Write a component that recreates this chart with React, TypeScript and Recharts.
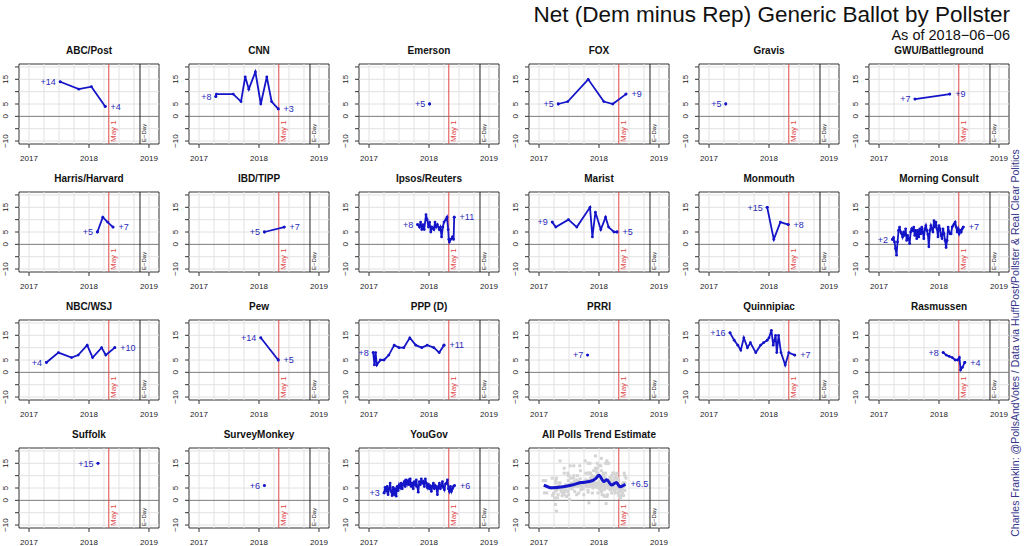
import React from "react";
import {
  ComposedChart,
  Line,
  XAxis,
  YAxis,
  ReferenceLine,
  ReferenceArea,
  ReferenceDot,
} from "recharts";

type Pt = [number, number];

const FONT = '"Liberation Sans", Arial, Helvetica, sans-serif';
const BLUE = "#1414c8";
const LABEL_BLUE = "#2a2ab8";
const RED = "#e04848";
const GRID = "#e2e2e2";

const X_DOMAIN = [2016.833, 2019.167];
const Y_DOMAIN = [-11.2, 21.2];
const YEAR_TICKS = [2017, 2018, 2019];
const Y_TICKS = [-10, -5, 0, 5, 10, 15, 20];
const Y_LABELED = [-10, 0, 5, 15];
const X_GRID = [2017, 2017.25, 2017.5, 2017.75, 2018, 2018.25, 2018.5, 2018.75, 2019];
const Y_GRID = [-10, -5, 5, 10, 15, 20];
const MAY_1 = 2018.33;
const E_DAY = 2018.85;

// poll results: [decimal year, Dem minus Rep]
const abcPost: Pt[] = [[2017.52, 14], [2017.83, 11], [2018.04, 12], [2018.27, 4]];
const cnn: Pt[] = [
  [2017.28, 8], [2017.29, 9], [2017.57, 9], [2017.7, 6], [2017.77, 16], [2017.83, 11],
  [2017.94, 18], [2018.03, 5], [2018.13, 16], [2018.21, 6], [2018.32, 3],
];
const emerson: Pt[] = [[2018.01, 5]];
const fox: Pt[] = [[2017.32, 5], [2017.48, 6], [2017.82, 15], [2018.08, 6], [2018.23, 5], [2018.45, 9]];
const gravis: Pt[] = [[2017.28, 5]];
const gwu: Pt[] = [[2017.6, 7], [2018.18, 9]];
const harris: Pt[] = [[2018.14, 5], [2018.23, 11], [2018.31, 9], [2018.4, 7]];
const ibd: Pt[] = [[2018.09, 5], [2018.42, 7]];
const ipsos: Pt[] = [
  [2017.81, 8], [2017.84, 7], [2017.86, 9], [2017.88, 6], [2017.9, 8], [2017.92, 6],
  [2017.95, 12], [2017.97, 10], [2017.99, 7], [2018.01, 9], [2018.03, 5], [2018.05, 7],
  [2018.08, 6], [2018.1, 9], [2018.12, 7], [2018.14, 8], [2018.17, 6], [2018.19, 7],
  [2018.21, 3], [2018.23, 7], [2018.25, 9], [2018.28, 10], [2018.3, 11], [2018.32, 6],
  [2018.33, 2], [2018.34, 1], [2018.36, 2], [2018.39, 3], [2018.41, 2], [2018.42, 11],
];
const marist: Pt[] = [
  [2017.22, 9], [2017.28, 7], [2017.49, 10], [2017.63, 7], [2017.85, 15], [2017.89, 3],
  [2017.94, 13], [2018.03, 6], [2018.11, 11], [2018.16, 7], [2018.25, 5], [2018.3, 5],
];
const monmouth: Pt[] = [[2017.97, 15], [2018.08, 2], [2018.19, 9], [2018.32, 8]];
const morningConsult: Pt[] = [
  [2017.225, 2], [2017.242, 2.7], [2017.258, 1], [2017.275, -1.7], [2017.292, -4.4],
  [2017.309, 1], [2017.326, 5.6], [2017.343, 7], [2017.36, 5], [2017.376, 4.3],
  [2017.393, 3], [2017.41, 5], [2017.427, 3.6], [2017.444, 6.3], [2017.461, 1.6],
  [2017.478, 3.6], [2017.494, 2.3], [2017.511, 0.3], [2017.528, 5], [2017.545, 6.3],
  [2017.562, 5.6], [2017.579, 7], [2017.596, 3.6], [2017.612, 5.6], [2017.629, 2.3],
  [2017.646, 5.6], [2017.663, 3], [2017.68, 6.3], [2017.697, 4.3], [2017.713, 7],
  [2017.73, 5], [2017.747, 2.3], [2017.764, 6.3], [2017.781, 7.6], [2017.798, 5.6],
  [2017.815, 4], [2017.831, -1], [2017.848, 5.6], [2017.865, 7.6], [2017.882, 6.3],
  [2017.899, 5], [2017.916, 9.6], [2017.933, 7], [2017.949, 9], [2017.966, 6.3],
  [2017.983, 3], [2018.0, 7.6], [2018.017, 6.3], [2018.034, 3.6], [2018.051, 2.3],
  [2018.067, 6.3], [2018.084, 4.3], [2018.101, 1.6], [2018.118, -1.3], [2018.135, 1.6],
  [2018.152, 7], [2018.169, 5], [2018.185, 4.3], [2018.202, 4.3], [2018.219, 7],
  [2018.236, 7.6], [2018.253, 8.3], [2018.27, 9], [2018.287, 7], [2018.303, 5],
  [2018.32, 6.3], [2018.337, 4.3], [2018.354, 5.6], [2018.371, 5], [2018.388, 6.3],
  [2018.404, 7],
];
const nbcWsj: Pt[] = [
  [2017.29, 4], [2017.49, 8], [2017.71, 6], [2017.82, 7], [2017.97, 11], [2018.06, 6],
  [2018.21, 10], [2018.28, 7], [2018.43, 10],
];
const pew: Pt[] = [[2018.03, 14], [2018.32, 5]];
const ppp: Pt[] = [
  [2017.07, 8], [2017.09, 3], [2017.11, 8], [2017.13, 3], [2017.19, 5], [2017.25, 5],
  [2017.33, 7], [2017.42, 11], [2017.5, 10], [2017.58, 10], [2017.68, 14], [2017.78, 11],
  [2017.88, 10], [2017.97, 11], [2018.08, 10], [2018.17, 8], [2018.25, 11],
];
const prri: Pt[] = [[2017.81, 7]];
const quinnipiac: Pt[] = [
  [2017.35, 16], [2017.42, 13], [2017.48, 11], [2017.53, 9], [2017.58, 14], [2017.64, 10],
  [2017.69, 12], [2017.78, 8], [2017.86, 11], [2017.91, 12], [2017.97, 13], [2018.0, 14],
  [2018.04, 17], [2018.07, 11], [2018.11, 15], [2018.13, 8], [2018.16, 15], [2018.2, 8],
  [2018.27, 3], [2018.33, 8], [2018.43, 7],
];
const rasmussen: Pt[] = [
  [2018.07, 8], [2018.12, 7], [2018.17, 6.5], [2018.22, 6], [2018.27, 5], [2018.31, 5],
  [2018.34, 6], [2018.36, 1], [2018.39, 2], [2018.43, 4],
];
const suffolk: Pt[] = [[2018.15, 15]];
const surveyMonkey: Pt[] = [[2018.09, 6]];
const youGov: Pt[] = [
  [2017.251, 3], [2017.268, 5.2], [2017.285, 3.9], [2017.302, 5.6], [2017.318, 2.3],
  [2017.335, 4.7], [2017.352, 7], [2017.369, 3.6], [2017.385, 1.9], [2017.402, 5.2],
  [2017.419, 2.3], [2017.436, 4.7], [2017.453, 1.7], [2017.469, 5.6], [2017.486, 3.9],
  [2017.503, 6.3], [2017.52, 5.2], [2017.536, 7], [2017.553, 4.7], [2017.57, 6.6],
  [2017.587, 7.6], [2017.603, 5.6], [2017.62, 8.3], [2017.637, 6.6], [2017.654, 7.9],
  [2017.67, 6.3], [2017.687, 8.7], [2017.704, 5.6], [2017.721, 7], [2017.737, 4.7],
  [2017.754, 7.6], [2017.771, 6.3], [2017.788, 8.3], [2017.804, 5.6], [2017.821, 3.3],
  [2017.838, 7.6], [2017.855, 6.3], [2017.872, 8.7], [2017.888, 7], [2017.905, 7.6],
  [2017.922, 5.6], [2017.939, 8.7], [2017.955, 7], [2017.972, 5.2], [2017.989, 6.6],
  [2018.006, 4.7], [2018.022, 6], [2018.039, 3.6], [2018.056, 5.6], [2018.073, 7],
  [2018.089, 4.7], [2018.106, 6], [2018.123, 5.2], [2018.14, 2.3], [2018.157, 5.6],
  [2018.173, 7], [2018.19, 4.7], [2018.207, 6], [2018.224, 7.6], [2018.24, 5.2],
  [2018.257, 4.3], [2018.274, 6.6], [2018.291, 7], [2018.307, 8.3], [2018.324, 4.7],
  [2018.341, 3.6], [2018.358, 5.6], [2018.374, 3.6], [2018.391, 4.7], [2018.408, 5.6],
  [2018.425, 6],
];
const trendEstimate: Pt[] = [
  [2017.08, 6.2], [2017.22, 5.1], [2017.4, 5.5], [2017.55, 6.2], [2017.7, 7.2],
  [2017.84, 7.6], [2017.95, 8.9], [2018.0, 10.2], [2018.08, 7.6], [2018.13, 8.3],
  [2018.21, 6.2], [2018.29, 7.2], [2018.35, 5.5], [2018.44, 6.5],
];

type Pollster = { name: string; data: Pt[]; trend?: boolean };

const pollsters: Pollster[] = [
  { name: "ABC/Post", data: abcPost },
  { name: "CNN", data: cnn },
  { name: "Emerson", data: emerson },
  { name: "FOX", data: fox },
  { name: "Gravis", data: gravis },
  { name: "GWU/Battleground", data: gwu },
  { name: "Harris/Harvard", data: harris },
  { name: "IBD/TIPP", data: ibd },
  { name: "Ipsos/Reuters", data: ipsos },
  { name: "Marist", data: marist },
  { name: "Monmouth", data: monmouth },
  { name: "Morning Consult", data: morningConsult },
  { name: "NBC/WSJ", data: nbcWsj },
  { name: "Pew", data: pew },
  { name: "PPP (D)", data: ppp },
  { name: "PRRI", data: prri },
  { name: "Quinnipiac", data: quinnipiac },
  { name: "Rasmussen", data: rasmussen },
  { name: "Suffolk", data: suffolk },
  { name: "SurveyMonkey", data: surveyMonkey },
  { name: "YouGov", data: youGov },
  { name: "All Polls Trend Estimate", data: trendEstimate, trend: true },
];

// every poll from every pollster, shown grey behind the trend
const allPolls = pollsters
  .filter((p) => !p.trend)
  .flatMap((p) => p.data.map(([x, y]) => ({ x, y })));

const fmt = (v: number) => (v < 0 ? "\u2212" : "+") + Math.abs(v);

const CHART_W = 170;
const CHART_H = 128;
const MARGIN = { top: 28, right: 11, bottom: 0, left: 0 };

function XTick(props: any) {
  const { x, y, payload } = props;
  return (
    <text x={x} y={y + 11} textAnchor="middle" fontSize={8} fill="#222" fontFamily={FONT}>
      {payload.value}
    </text>
  );
}

function YTick(props: any) {
  const { x, y, payload } = props;
  if (!Y_LABELED.includes(payload.value)) return <g />;
  const v = payload.value;
  const label = v < 0 ? "\u2212" + Math.abs(v) : String(v);
  return (
    <text
      transform={`translate(${x - 5},${y}) rotate(-90)`}
      textAnchor="middle"
      fontSize={8}
      fill="#222"
      fontFamily={FONT}
    >
      {label}
    </text>
  );
}

const mayLabel = (props: any) => {
  const vb = props.viewBox;
  if (!vb) return null;
  return (
    <text
      transform={`translate(${vb.x + 7.5},${vb.y + vb.height - 2}) rotate(-90)`}
      fontSize={8}
      fill={RED}
      fontFamily={FONT}
    >
      May 1
    </text>
  );
};

const edayLabel = (props: any) => {
  const vb = props.viewBox;
  if (!vb) return null;
  return (
    <text
      transform={`translate(${vb.x + 6},${vb.y + vb.height - 2}) rotate(-90)`}
      fontSize={6}
      fill="#222"
      fontFamily={FONT}
    >
      E{"\u2212"}Day
    </text>
  );
};

const grayDot = (props: any) => (
  <rect key={props.index} x={props.cx - 1.5} y={props.cy - 1.5} width={3} height={3} fill="#d4d4d4" />
);

// axes shared by the panel and the overlay, so both use the same scales
function axes(showTicks: boolean) {
  return [
    <XAxis
      key="x"
      type="number"
      dataKey="x"
      domain={X_DOMAIN}
      ticks={YEAR_TICKS}
      allowDataOverflow
      interval={0}
      height={20}
      axisLine={false}
      tickSize={4}
      tickLine={showTicks ? { stroke: "#333" } : false}
      tick={showTicks ? <XTick /> : false}
    />,
    <YAxis
      key="y"
      type="number"
      dataKey="y"
      domain={Y_DOMAIN}
      ticks={Y_TICKS}
      allowDataOverflow
      interval={0}
      width={19}
      axisLine={false}
      tickSize={4}
      tickLine={showTicks ? { stroke: "#333" } : false}
      tick={showTicks ? <YTick /> : false}
    />,
  ];
}

function Panel({ p, row, col }: { p: Pollster; row: number; col: number }) {
  const pts = p.data.map(([x, y]) => ({ x, y }));
  const first = p.data[0];
  const last = p.data[p.data.length - 1];
  return (
    <div style={{ position: "absolute", left: col * CHART_W, top: 36 + row * 128, width: CHART_W, height: CHART_H }}>
      <ComposedChart width={CHART_W} height={CHART_H} margin={MARGIN}>
        {axes(true)}
        {X_GRID.map((v) => (
          <ReferenceLine key={"gx" + v} x={v} stroke={GRID} />
        ))}
        {Y_GRID.map((v) => (
          <ReferenceLine key={"gy" + v} y={v} stroke={GRID} />
        ))}
        <ReferenceLine y={0} stroke="#7a7a7a" />
        <ReferenceLine x={MAY_1} stroke={RED} label={mayLabel} />
        <ReferenceLine x={E_DAY} stroke="#222" label={edayLabel} />
        {p.trend ? (
          <Line
            data={allPolls}
            dataKey="y"
            stroke="none"
            dot={grayDot}
            activeDot={false}
            isAnimationActive={false}
          />
        ) : (
          <Line
            data={pts}
            dataKey="y"
            stroke={BLUE}
            strokeWidth={1.8}
            dot={{ r: 1.4, fill: BLUE, stroke: BLUE, strokeWidth: 0 }}
            isAnimationActive={false}
          />
        )}
        {!p.trend && (
          <ReferenceDot
            x={first[0]}
            y={first[1]}
            r={1.4}
            fill={BLUE}
            stroke="none"
            label={{ value: fmt(first[1]), position: "left", offset: 3, fill: LABEL_BLUE, fontSize: 9, fontFamily: FONT }}
          />
        )}
        {!p.trend && p.data.length > 1 && (
          <ReferenceDot
            x={last[0]}
            y={last[1]}
            r={1.4}
            fill={BLUE}
            stroke="none"
            label={{ value: fmt(last[1]), position: "right", offset: 4, fill: LABEL_BLUE, fontSize: 9, fontFamily: FONT }}
          />
        )}
        <ReferenceArea
          x1={X_DOMAIN[0]}
          x2={X_DOMAIN[1]}
          y1={Y_DOMAIN[0]}
          y2={Y_DOMAIN[1]}
          fill="none"
          stroke="#333"
          strokeWidth={1}
          ifOverflow="visible"
        />
      </ComposedChart>
      {p.trend && (
        <div style={{ position: "absolute", left: 0, top: 0 }}>
          <ComposedChart width={CHART_W} height={CHART_H} margin={MARGIN}>
            {axes(false)}
            <Line
              data={pts}
              dataKey="y"
              type="monotone"
              stroke={BLUE}
              strokeWidth={3}
              dot={false}
              activeDot={false}
              isAnimationActive={false}
            />
            <ReferenceDot
              x={last[0]}
              y={last[1]}
              r={0.1}
              fill={BLUE}
              stroke="none"
              label={{ value: fmt(last[1]), position: "right", offset: 5, fill: LABEL_BLUE, fontSize: 9, fontFamily: FONT }}
            />
          </ComposedChart>
        </div>
      )}
      <div
        style={{
          position: "absolute",
          left: 19,
          top: 9,
          width: 140,
          height: 12,
          lineHeight: "12px",
          textAlign: "center",
          fontWeight: "bold",
          fontSize: 10,
          fontFamily: FONT,
          color: "#111",
          whiteSpace: "nowrap",
        }}
      >
        {p.name}
      </div>
    </div>
  );
}

export default function App() {
  return (
    <div
      style={{
        position: "absolute",
        left: 0,
        top: 0,
        width: 1024,
        height: 546,
        background: "#fff",
        overflow: "hidden",
        fontFamily: FONT,
      }}
    >
      <div
        style={{
          position: "absolute",
          right: 14,
          top: 4,
          fontSize: 22.5,
          lineHeight: "21px",
          color: "#111",
          whiteSpace: "nowrap",
        }}
      >
        Net (Dem minus Rep) Generic Ballot by Pollster
      </div>
      <div
        style={{
          position: "absolute",
          right: 14,
          top: 29,
          fontSize: 14.5,
          lineHeight: "12px",
          color: "#111",
          whiteSpace: "nowrap",
        }}
      >
        As of 2018{"\u2212"}06{"\u2212"}06
      </div>
      {pollsters.map((p, i) => (
        <Panel key={p.name} p={p} row={Math.floor(i / 6)} col={i % 6} />
      ))}
      <div
        style={{
          position: "absolute",
          left: 1015 - 220,
          top: 343 - 7,
          width: 440,
          height: 14,
          lineHeight: "14px",
          textAlign: "center",
          fontSize: 10.5,
          color: "#35358a",
          whiteSpace: "nowrap",
          transform: "rotate(-90deg)",
          transformOrigin: "center",
        }}
      >
        Charles Franklin: @PollsAndVotes / Data via HuffPost/Pollster &amp; Real Clear Politics
      </div>
    </div>
  );
}
